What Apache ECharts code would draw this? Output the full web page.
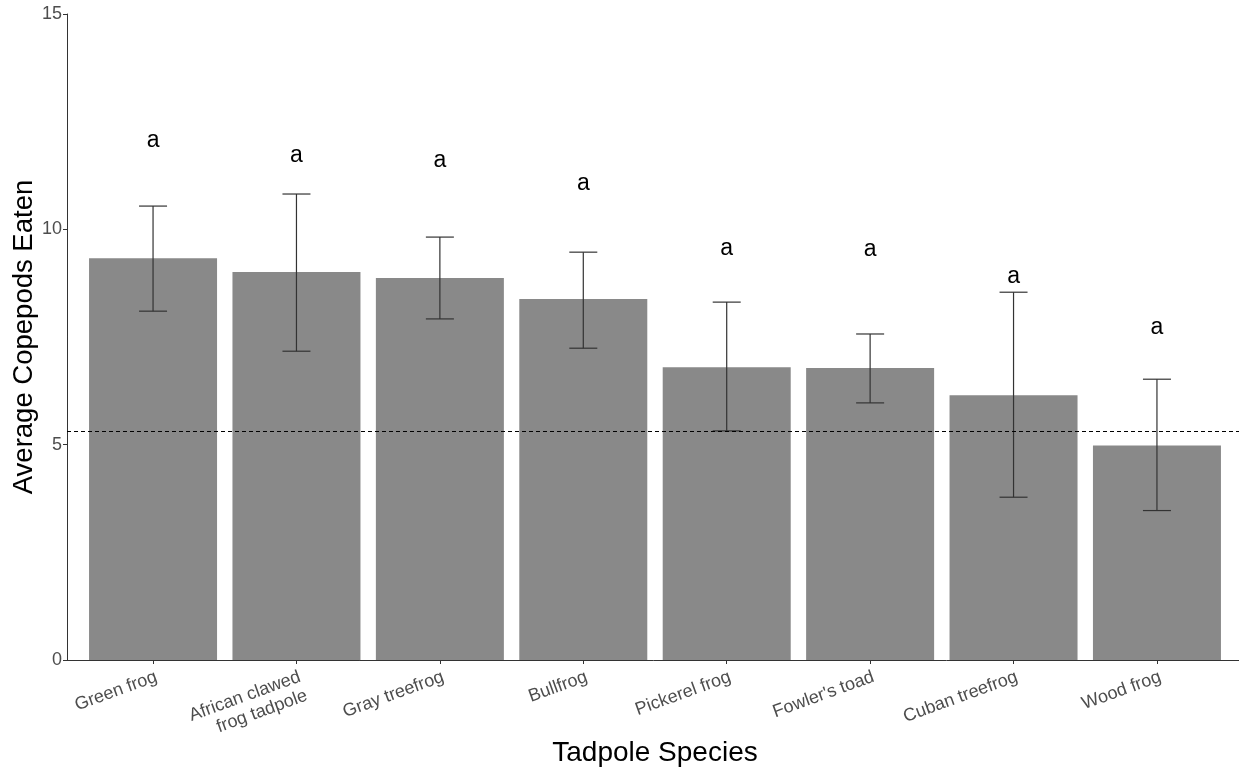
<!DOCTYPE html>
<html>
<head>
<meta charset="utf-8">
<title>Average Copepods Eaten by Tadpole Species</title>
<script src="https://cdn.jsdelivr.net/npm/echarts@6/dist/echarts.min.js"></script>
<style>
  html, body { margin: 0; padding: 0; background: #ffffff; }
  #chart { width: 1239px; height: 773px; }
</style>
</head>
<body>
<div id="chart"></div>
<script>
// Tadpole species, in plotting order
const categories = [
  'Green frog',
  'African clawed\nfrog tadpole',
  'Gray treefrog',
  'Bullfrog',
  'Pickerel frog',
  "Fowler's toad",
  'Cuban treefrog',
  'Wood frog'
];
// Mean copepods eaten per species
const means = [9.33, 9.01, 8.87, 8.38, 6.80, 6.78, 6.15, 4.98];
// Error bar limits
const upper = [10.54, 10.82, 9.82, 9.47, 8.31, 7.57, 8.54, 6.52];
const lower = [8.10, 7.17, 7.92, 7.24, 5.32, 5.97, 3.78, 3.47];
// Significance group letters and their heights
const letters = ['a', 'a', 'a', 'a', 'a', 'a', 'a', 'a'];
const letterY = [12.07, 11.72, 11.59, 11.07, 9.54, 9.52, 8.89, 7.71];
// Dashed reference level
const refLine = 5.32;
// Y axis ticks
const yTicks = [0, 5, 10, 15];

const FONT = '"Liberation Sans", Arial, Helvetica, sans-serif';
const idx = categories.map((_, i) => i);

const chart = echarts.init(document.getElementById('chart'), null, { renderer: 'canvas' });

chart.setOption({
  animation: false,
  backgroundColor: '#ffffff',
  grid: {
    left: 67, right: -4, top: 14, bottom: 113,
    outerBoundsMode: 'none'
  },
  xAxis: {
    type: 'value',
    min: -0.6,
    max: 7.6,
    name: 'Tadpole Species',
    nameLocation: 'middle',
    nameGap: 79,
    nameMoveOverlap: false,
    nameTextStyle: { fontFamily: FONT, fontSize: 28, color: '#000000', lineHeight: 28 },
    axisLine: { show: true, onZero: false, lineStyle: { color: '#333333', width: 1 } },
    axisTick: { show: true, length: 4, customValues: idx, lineStyle: { color: '#333333' } },
    axisLabel: {
      customValues: idx,
      formatter: (v) => categories[Math.round(v)],
      rotate: 20,
      margin: 7,
      align: 'right',
      verticalAlign: 'top',
      fontFamily: FONT,
      fontSize: 18,
      color: '#4d4d4d',
      lineHeight: 20
    },
    splitLine: { show: false }
  },
  yAxis: {
    type: 'value',
    min: yTicks[0],
    max: yTicks[yTicks.length - 1],
    interval: 5,
    name: 'Average Copepods Eaten',
    nameLocation: 'middle',
    nameGap: 29,
    nameMoveOverlap: false,
    nameTextStyle: { fontFamily: FONT, fontSize: 27.5, color: '#000000', lineHeight: 28 },
    axisLine: { show: true, onZero: false, lineStyle: { color: '#333333', width: 1 } },
    axisTick: { show: true, length: 4, lineStyle: { color: '#333333' } },
    axisLabel: { fontFamily: FONT, fontSize: 18, color: '#4d4d4d', margin: 5 },
    splitLine: { show: false }
  },
  series: [
    {
      type: 'bar',
      barWidth: 128,
      itemStyle: { color: '#898989' },
      data: idx.map(i => [i, means[i]]),
      markLine: {
        silent: true,
        symbol: 'none',
        label: { show: false },
        lineStyle: { color: '#000000', type: [4, 3], width: 1 },
        data: [{ yAxis: refLine }]
      },
      z: 2
    },
    {
      type: 'custom',
      data: idx.map(i => [i, lower[i], upper[i]]),
      encode: { x: 0, y: [1, 2] },
      renderItem: (params, api) => {
        const x = api.value(0);
        const lo = api.coord([x, api.value(1)]);
        const hi = api.coord([x, api.value(2)]);
        const half = 14;
        const style = { stroke: '#333333', lineWidth: 1.2 };
        return {
          type: 'group',
          children: [
            { type: 'line', shape: { x1: lo[0], y1: lo[1], x2: hi[0], y2: hi[1] }, style },
            { type: 'line', shape: { x1: hi[0] - half, y1: hi[1], x2: hi[0] + half, y2: hi[1] }, style },
            { type: 'line', shape: { x1: lo[0] - half, y1: lo[1], x2: lo[0] + half, y2: lo[1] }, style }
          ]
        };
      },
      z: 3
    },
    {
      type: 'custom',
      data: idx.map(i => [i, letterY[i]]),
      encode: { x: 0, y: 1 },
      renderItem: (params, api) => {
        const p = api.coord([api.value(0), api.value(1)]);
        return {
          type: 'text',
          style: {
            text: letters[params.dataIndex],
            x: p[0],
            y: p[1],
            align: 'center',
            verticalAlign: 'middle',
            fontFamily: FONT,
            fontSize: 23,
            fill: '#000000'
          }
        };
      },
      z: 4
    }
  ]
});
</script>
</body>
</html>
